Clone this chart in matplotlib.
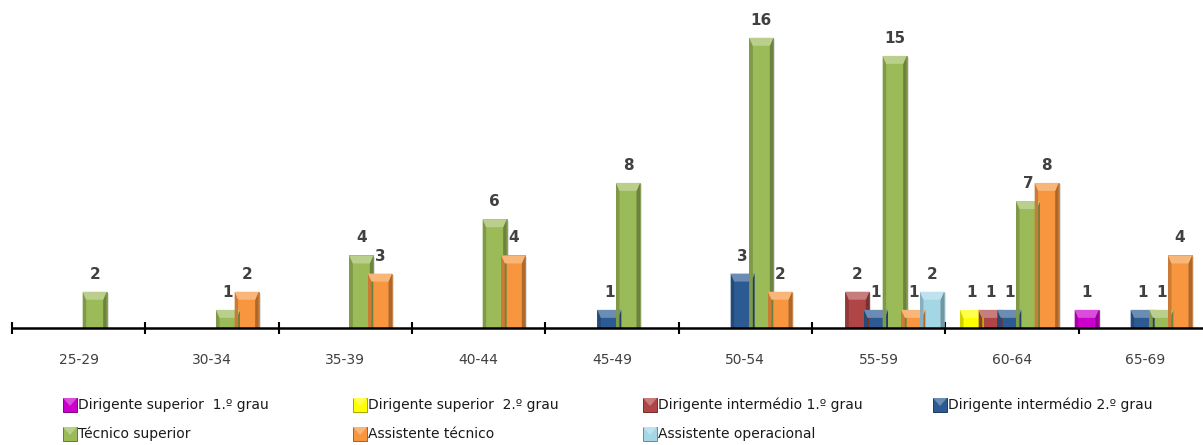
import numpy as np
import matplotlib.pyplot as plt
from matplotlib.patches import Rectangle, Polygon
from matplotlib.colors import to_rgb

# Data
faixas = ["25-29", "30-34", "35-39", "40-44", "45-49", "50-54", "55-59", "60-64", "65-69"]
series = ["Dirigente superior  1.º grau", "Dirigente superior  2.º grau",
          "Dirigente intermédio 1.º grau", "Dirigente intermédio 2.º grau",
          "Técnico superior", "Assistente técnico", "Assistente operacional"]
dir_sup_1 = [0, 0, 0, 0, 0, 0, 0, 0, 1]
dir_sup_2 = [0, 0, 0, 0, 0, 0, 0, 1, 0]
dir_int_1 = [0, 0, 0, 0, 0, 0, 2, 1, 0]
dir_int_2 = [0, 0, 0, 0, 1, 3, 1, 1, 1]
tec_sup = [2, 1, 4, 6, 8, 16, 15, 7, 1]
assist_tec = [0, 2, 3, 4, 0, 2, 1, 8, 4]
assist_op = [0, 0, 0, 0, 0, 0, 2, 0, 0]
valores = [dir_sup_1, dir_sup_2, dir_int_1, dir_int_2, tec_sup, assist_tec, assist_op]
cores = ["#CC00CC", "#FFFF00", "#B04545", "#2C5A92", "#9BBB59", "#F7963F", "#A3D7E6"]

W, H = 1203, 445
fig = plt.figure(figsize=(W / 100, H / 100), dpi=100)

#Main axes: plot area is wider than the picture, last category is cut off
x0, x1 = 12, 1212
y_base = 328
px_unit = 18.14
ax = fig.add_axes([x0 / W, (H - y_base) / H, (x1 - x0) / W, y_base / H])
ax.set_xlim(-0.5, len(faixas) - 0.5)
ax.set_ylim(0, y_base / px_unit)
ax.patch.set_alpha(0)

px_x = (x1 - x0) / len(faixas)  # px per category unit


def shade(c, f):
    r = np.array(to_rgb(c))
    if f > 0:
        return tuple(r + (1 - r) * f)
    return tuple(r * (1 + f))


def bar3d(a, xc, h, color, bw):
    l, r = xc - bw / 2, xc + bw / 2
    bx = 3.5 / px_x
    by = min(8 / px_unit, h * 0.45)
    # shadow
    a.add_patch(Rectangle((l + 2 / px_x, 0), bw, h - 1.5 / px_unit,
                          facecolor="#d0d0d0", edgecolor="none", alpha=0.6, zorder=1))
    a.add_patch(Rectangle((l, 0), bw, h, facecolor=color,
                          edgecolor=shade(color, -0.25), linewidth=0.5, zorder=2))
    # left / right darker sides
    a.add_patch(Polygon([(l, 0), (l + bx, 0), (l + bx, h - by), (l, h)],
                        facecolor=shade(color, -0.18), edgecolor="none", zorder=3))
    a.add_patch(Polygon([(r, 0), (r - bx, 0), (r - bx, h - by), (r, h)],
                        facecolor=shade(color, -0.3), edgecolor="none", zorder=3))
    # top lighter bevel
    a.add_patch(Polygon([(l, h), (r, h), (r - bx, h - by), (l + bx, h - by)],
                        facecolor=shade(color, 0.3), edgecolor="none", zorder=3))


slot = 0.14
bw = 24 / px_x
for j, (vals, cor) in enumerate(zip(valores, cores)):
    off = (j - 3) * slot - 0.02
    for i, v in enumerate(vals):
        if v == 0:
            continue
        bar3d(ax, i + off, v, cor, bw)
        ax.text(i + off, v + 10 / px_unit, str(v), ha="center", va="bottom",
                fontsize=11, fontweight="bold", color="#404040", zorder=5)

# Axis
for s in ["top", "right", "left"]:
    ax.spines[s].set_visible(False)
ax.spines["bottom"].set_linewidth(1.8)
ax.spines["bottom"].set_zorder(6)
ax.set_yticks([])
ax.set_xticks(range(len(faixas)))
ax.set_xticklabels(faixas, fontsize=10, color="#404040")
ax.tick_params(axis="x", which="major", length=0, pad=18)
ax.set_xticks(np.arange(-0.5, len(faixas), 1), minor=True)
ax.tick_params(axis="x", which="minor", direction="inout", length=9, width=1.5)

# Legend drawn by hand in pixel coordinates
lg = fig.add_axes([0, 0, 1, 1])
lg.set_xlim(0, W)
lg.set_ylim(H, 0)
lg.axis("off")
col_x = [63, 353, 643, 933]
row_y = [405, 434]
for k, (nome, cor) in enumerate(zip(series, cores)):
    lx = col_x[k % 4]
    ly = row_y[k // 4]
    s = 14
    lg.add_patch(Rectangle((lx, ly - s / 2), s, s, facecolor=cor,
                           edgecolor=shade(cor, -0.35), linewidth=0.7))
    lg.add_patch(Polygon([(lx, ly - s / 2), (lx + s, ly - s / 2), (lx + s / 2, ly + 1)],
                         facecolor=shade(cor, 0.3), edgecolor="none"))
    lg.text(lx + s + 1, ly, nome, fontsize=10, color="#1a1a1a", va="center", ha="left")

plt.savefig("out.png", dpi=100)
